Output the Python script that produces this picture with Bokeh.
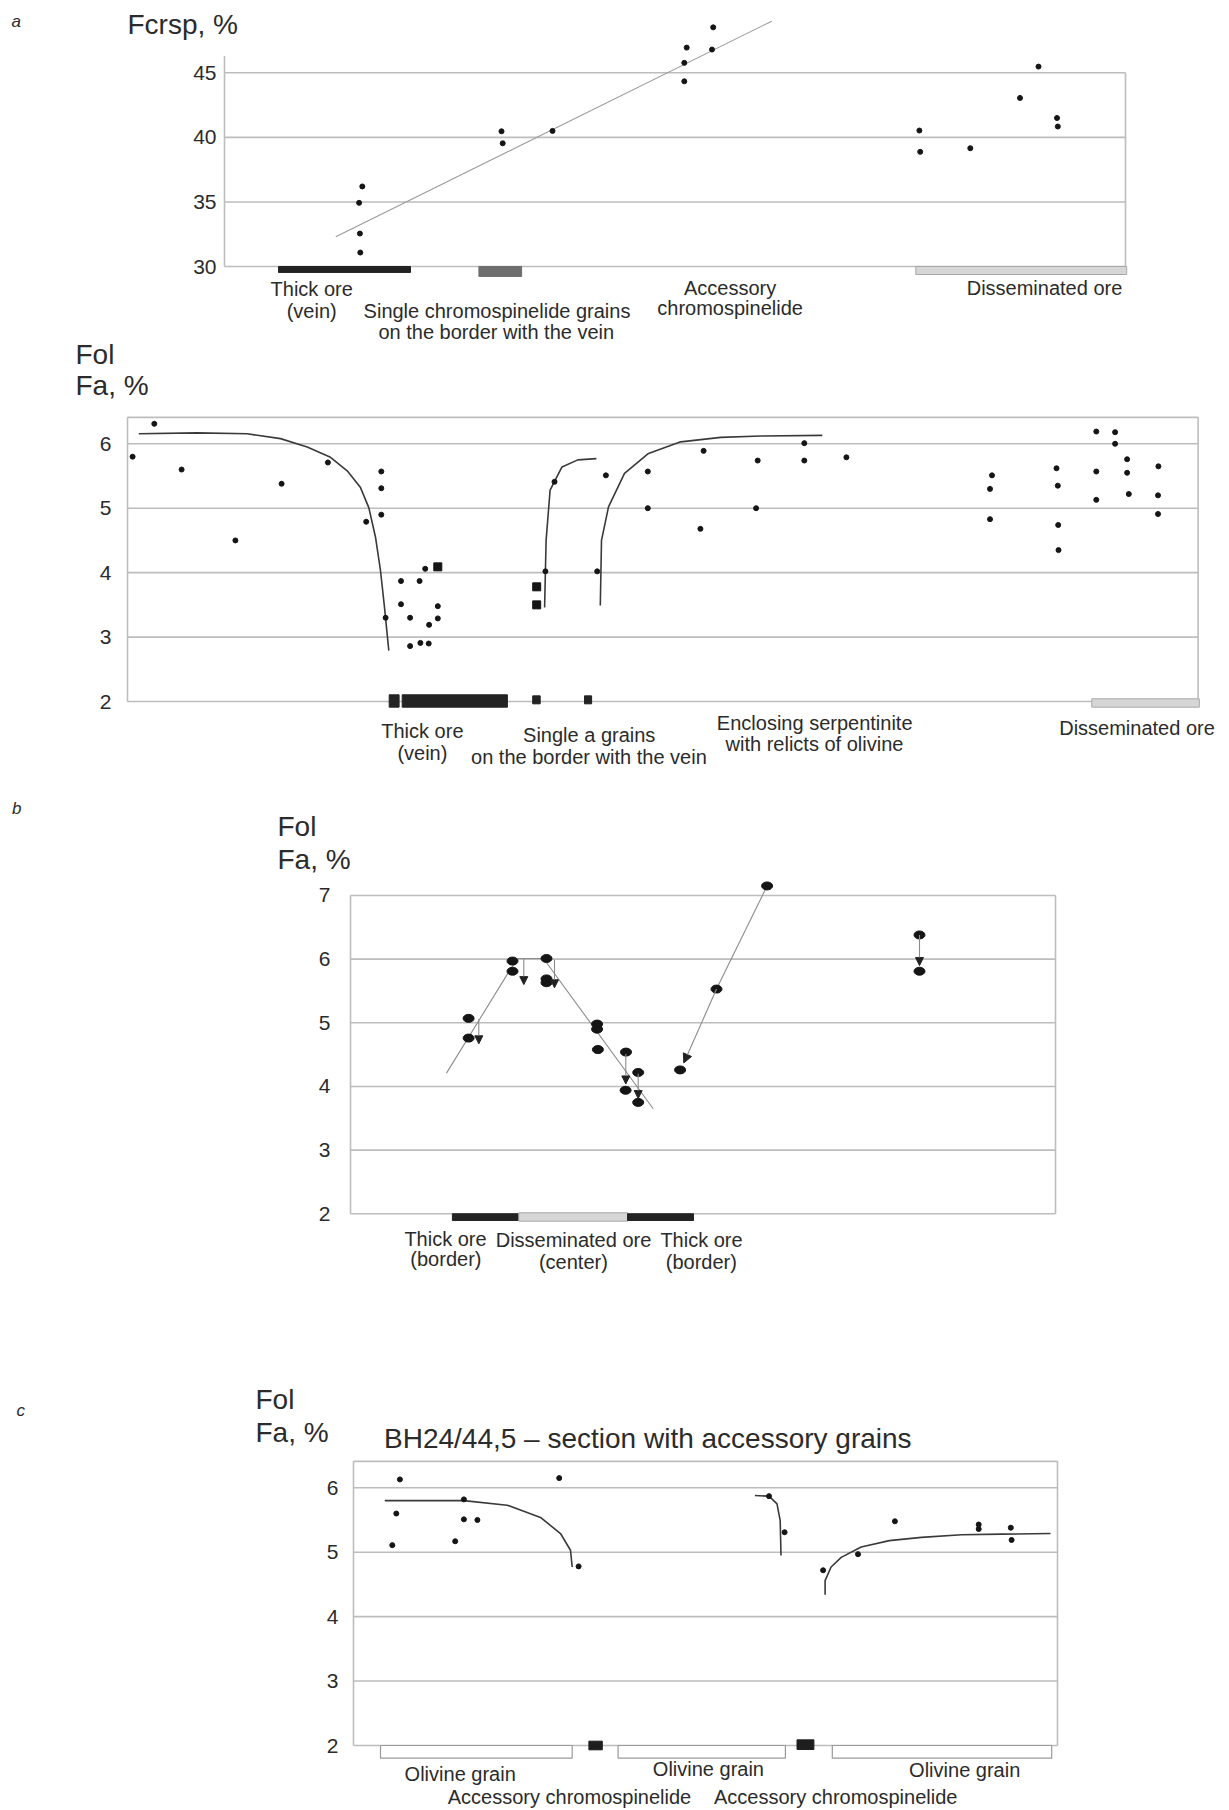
from bokeh.plotting import figure
from bokeh.models import (ColumnDataSource, Label, LinearAxis, FixedTicker, Arrow,
                          NormalHead, Range1d)
from bokeh.embed import file_html
from bokeh.resources import INLINE
from bokeh.core.properties import value

FONT = "Liberation Sans"
GRID = "#bdbdbd"
TXT = "#2b2b2b"
DOT = "#151515"
W, H = 1229, 1808

# ======================= DATA =======================
# ---- panel a (upper): Fcrsp, % vs. position along profile ----
a1_ticks = [30, 35, 40, 45]
a1_box = [0, 901, 46.3]                  # profile start, profile end, axis top
a1_x = [137.8, 134.6, 135.4, 135.8, 277.0, 278.2, 328.0, 462.2, 459.8, 459.8,
        488.7, 487.5, 694.9, 695.7, 745.8, 795.5, 814.0, 832.5, 833.3]
a1_y = [36.2, 34.93, 32.55, 31.08, 40.47, 39.54, 40.5, 46.95, 45.77, 44.34,
        48.52, 46.8, 40.53, 38.88, 39.16, 43.05, 45.48, 41.5, 40.84]
a1_trend_x = [111.3, 547.3]
a1_trend_y = [32.3, 49.0]
a1_zone_left = [54.0, 254.4, 691.3]
a1_zone_right = [186.0, 297.1, 902.2]
a1_zone_bottom = [29.54, 29.23, 29.38]
a1_labels = ["Thick ore", "(vein)", "Single chromospinelide grains",
             "on the border with the vein", "Accessory", "chromospinelide",
             "Disseminated ore"]
a1_label_x = [87.2, 87.2, 272.5, 271.8, 505.6, 505.6, 820.0]
a1_label_y = [28.22, 26.52, 26.59, 24.91, 28.37, 26.75, 28.37]

# ---- panel a (lower): Fa in olivine ----
a2_ticks = [2, 3, 4, 5, 6]
a2_box = [0, 1070.6, 6.41]
a2_x = [5.1, 26.8, 54.1, 107.9, 154.1, 200.4, 238.7, 253.8, 253.8, 253.8,
        258.1, 273.5, 273.5, 282.6, 282.6, 292.1, 292.9, 297.7, 301.2, 301.6,
        310.3, 310.3, 417.9, 427.0, 469.7, 478.4, 520.3, 520.3, 576.1, 572.9,
        630.2, 628.6, 676.8, 676.8, 718.9,
        864.5, 862.5, 862.5, 929.0, 930.3, 930.7, 931.0, 968.8, 968.8, 968.8,
        987.6, 987.6, 999.6, 999.6, 1001.3, 1030.9, 1030.5, 1030.5]
a2_y = [5.80, 6.31, 5.60, 4.50, 5.38, 5.71, 4.79, 5.57, 5.31, 4.90,
        3.30, 3.87, 3.51, 3.30, 2.86, 3.87, 2.91, 4.06, 2.90, 3.19,
        3.48, 3.29, 4.02, 5.41, 4.02, 5.51, 5.57, 5.00, 5.89, 4.68,
        5.74, 5.00, 6.01, 5.74, 5.79,
        5.51, 5.30, 4.83, 5.62, 5.35, 4.74, 4.35, 6.19, 5.57, 5.13,
        6.18, 6.00, 5.76, 5.55, 5.22, 5.65, 5.20, 4.91]
a2_sq_x = [310.3, 409.2, 409.2]
a2_sq_y = [4.09, 3.78, 3.50]
a2_curve1_x = [11.3, 69.7, 119.7, 153.0, 179.7, 203.0, 219.7, 233.0, 241.3, 248.0, 253.0, 257.0, 261.3]
a2_curve1_y = [6.155, 6.17, 6.155, 6.08, 5.95, 5.79, 5.58, 5.32, 5.01, 4.55, 4.03, 3.46, 2.79]
a2_curve2_x = [417.1, 418.6, 422.6, 434.5, 450.3, 468.9]
a2_curve2_y = [3.46, 4.50, 5.28, 5.64, 5.75, 5.77]
a2_curve3_x = [472.8, 474.0, 481.0, 497.0, 521.0, 553.2, 593.3, 633.4, 694.8]
a2_curve3_y = [3.49, 4.50, 5.02, 5.54, 5.85, 6.03, 6.10, 6.12, 6.13]
a2_zone_left = [261.7, 274.7, 405.2, 457.0]
a2_zone_right = [271.6, 379.9, 412.7, 464.1]
a2_zone_top = [2.104, 2.104, 2.088, 2.088]
a2_zone_bottom = [1.912, 1.912, 1.964, 1.964]
a2_dissem = [964.3, 1071.8, 2.042, 1.912]
a2_labels = ["Thick ore", "(vein)", "Single a grains", "on the border with the vein",
             "Enclosing serpentinite", "with relicts of olivine", "Disseminated ore"]
a2_label_x = [294.9, 294.9, 461.7, 461.4, 687.2, 687.0, 1009.5]
a2_label_y = [1.55, 1.204, 1.483, 1.146, 1.669, 1.343, 1.586]

# ---- panel b ----
b_ticks = [2, 3, 4, 5, 6, 7]
b_box = [0, 705, 7]
b_x = [118.1, 118.1, 162.0, 162.0, 196.0, 196.0, 196.0, 246.6, 246.6, 247.4,
       275.5, 275.1, 287.7, 287.7, 329.6, 366.0, 416.6, 569.0, 569.0]
b_y = [5.07, 4.76, 5.97, 5.81, 6.01, 5.69, 5.63, 4.98, 4.90, 4.58,
       4.54, 3.94, 4.22, 3.75, 4.26, 5.53, 7.15, 6.38, 5.81]
b_trend1_x = [96.0, 158.3, 167.3, 193.0, 302.7]
b_trend1_y = [4.21, 5.80, 6.01, 6.01, 3.65]
b_trend2_x = [416.6, 366.0, 333.3]
b_trend2_y = [7.15, 5.53, 4.37]
b_arrow_x = [128.3, 173.3, 204.0, 275.3, 287.7, 569.0]
b_arrow_y0 = [5.06, 6.02, 5.99, 4.51, 4.20, 6.38]
b_arrow_y1 = [4.67, 5.60, 5.55, 4.04, 3.81, 5.90]
b_zone_left = [101.9, 168.3, 277.0]
b_zone_right = [168.3, 277.0, 343.0]
b_labels = ["Thick ore", "(border)", "Disseminated ore", "(center)", "Thick ore", "(border)"]
b_label_x = [95.0, 95.4, 223.0, 222.9, 351.0, 350.8]
b_label_y = [1.607, 1.282, 1.596, 1.240, 1.581, 1.235]

# ---- panel c ----
c_ticks = [2, 3, 4, 5, 6]
c_box = [0, 704, 6.41]
c_x = [46.4, 42.8, 38.8, 110.4, 110.4, 123.9, 101.7, 205.7, 225.1,
       415.5, 431.1, 469.6, 504.5, 541.4, 625.2, 625.2, 657.3, 658.1]
c_y = [6.13, 5.60, 5.11, 5.82, 5.51, 5.50, 5.17, 6.15, 4.78,
       5.87, 5.31, 4.72, 4.97, 5.48, 5.43, 5.36, 5.38, 5.19]
c_curve1_x = [31.3, 110.3, 153.7, 187.0, 207.0, 217.0, 218.7]
c_curve1_y = [5.80, 5.80, 5.73, 5.54, 5.29, 5.03, 4.77]
c_curve2_x = [401.4, 415.5, 423.5, 426.7, 427.5]
c_curve2_y = [5.88, 5.87, 5.75, 5.49, 4.95]
c_curve3_x = [471.6, 471.6, 477.6, 487.7, 507.7, 535.8, 567.9, 608.0, 648.1, 697.0]
c_curve3_y = [4.34, 4.56, 4.77, 4.92, 5.08, 5.18, 5.23, 5.27, 5.28, 5.29]
c_grain_left = [27.0, 264.6, 478.8]
c_grain_right = [218.7, 431.9, 698.2]
c_chrom_left = [235.4, 443.5]
c_chrom_right = [248.8, 460.4]
c_labels = ["Olivine grain", "Olivine grain", "Olivine grain",
            "Accessory chromospinelide", "Accessory chromospinelide"]
c_label_x = [106.7, 354.9, 611.2, 216.0, 482.2]
c_label_y = [1.561, 1.638, 1.623, 1.205, 1.195]
c_title = "BH24/44,5 \u2013 section with accessory grains"

# ======================= FIGURE (one canvas, one scale pair per panel) =======================
p = figure(width=W, height=H,
           x_range=Range1d(-224, W - 224), y_range=Range1d(-89.41, 50.599),
           x_axis_type=None, y_axis_type=None, toolbar_location=None,
           output_backend="svg", title=None,
           min_border_left=0, min_border_right=0, min_border_top=0, min_border_bottom=0,
           outline_line_color=None, background_fill_color="white",
           border_fill_color="white")
p.extra_x_ranges = {"xa2": Range1d(-127, W - 127), "xb": Range1d(-350, W - 350),
                    "xc": Range1d(-353, W - 353)}
p.extra_y_ranges = {"ya2": Range1d(-15.181, 12.880), "yb": Range1d(-7.342, 21.059),
                    "yc": Range1d(1.0222, 29.084)}

RN = {
    "a1": dict(),
    "a2": dict(x_range_name="xa2", y_range_name="ya2"),
    "b": dict(x_range_name="xb", y_range_name="yb"),
    "c": dict(x_range_name="xc", y_range_name="yc"),
}


def yaxis(key, ticks, standoff):
    ax = LinearAxis(ticker=FixedTicker(ticks=ticks), fixed_location=0,
                    axis_line_color=None,
                    major_tick_line_color=None, minor_tick_line_color=None,
                    major_tick_in=0, major_tick_out=0,
                    major_label_standoff=standoff,
                    major_label_text_font=FONT, major_label_text_font_size="21px",
                    major_label_text_color=TXT, **RN[key])
    p.add_layout(ax, "left")


def frame(key, box, bottom, ticks, top_line=True, right_top=None):
    kw = RN[key]
    x0, x1, top = box
    p.segment(x0=x0, x1=x1, y0=ticks, y1=ticks, line_color=GRID, line_width=1.6, **kw)
    if top_line:
        p.segment(x0=[x0], x1=[x1], y0=[top], y1=[top], line_color=GRID, line_width=1.6, **kw)
    rt = top if right_top is None else right_top
    p.segment(x0=[x0, x1], x1=[x0, x1], y0=[bottom, bottom], y1=[top, rt],
              line_color=GRID, line_width=1.6, **kw)


def texts(key, xs, ys, labels, size="20px"):
    src = ColumnDataSource(dict(x=xs, y=ys, t=labels))
    p.text(x="x", y="y", text="t", source=src, text_font=value(FONT),
           text_font_size=size, text_align="center", text_baseline="middle",
           text_color=TXT, **RN[key])


def side_label(key, x, y, text, size="28px", style="normal"):
    p.add_layout(Label(x=x, y=y, text=text, text_font=FONT, text_font_size=size,
                       text_font_style=style, text_color=TXT,
                       text_align="left", text_baseline="middle", **RN[key]))


# ======================= PANEL a (upper) =======================
k = "a1"
yaxis(k, a1_ticks, 8)
frame(k, a1_box, 30, a1_ticks, top_line=False, right_top=45)
p.quad(left=a1_zone_left, right=a1_zone_right, top=30, bottom=a1_zone_bottom,
       fill_color=["#232323", "#6e6e6e", "#d6d6d6"],
       line_color=["#232323", "#6e6e6e", "#a8a8a8"], line_width=1, **RN[k])
p.line(a1_trend_x, a1_trend_y, line_color="#9a9a9a", line_width=1.1, **RN[k])
p.scatter(a1_x, a1_y, size=5, color=DOT, **RN[k])
texts(k, a1_label_x, a1_label_y, a1_labels)
side_label(k, -213, 48.97, "a", size="17px", style="italic")
side_label(k, -97, 48.74, "Fcrsp, %")

# ======================= PANEL a (lower) =======================
k = "a2"
yaxis(k, a2_ticks, 16)
frame(k, a2_box, 2, a2_ticks)
p.quad(left=a2_zone_left, right=a2_zone_right, top=a2_zone_top, bottom=a2_zone_bottom,
       fill_color="#232323", line_color="#232323", **RN[k])
p.quad(left=[a2_dissem[0]], right=[a2_dissem[1]], top=[a2_dissem[2]], bottom=[a2_dissem[3]],
       fill_color="#d6d6d6", line_color="#a8a8a8", line_width=1, **RN[k])
for cx, cy in [(a2_curve1_x, a2_curve1_y), (a2_curve2_x, a2_curve2_y), (a2_curve3_x, a2_curve3_y)]:
    p.line(cx, cy, line_color="#3a3a3a", line_width=1.6, **RN[k])
p.scatter(a2_x, a2_y, size=5, color=DOT, **RN[k])
p.scatter(a2_sq_x, a2_sq_y, marker="square", size=8, color=DOT, **RN[k])
texts(k, a2_label_x, a2_label_y, a2_labels)
side_label(k, -52, 7.386, "Fol")
side_label(k, -52, 6.897, "Fa, %")

# ======================= PANEL b =======================
k = "b"
yaxis(k, b_ticks, 20)
frame(k, b_box, 2, b_ticks, top_line=False)
p.quad(left=b_zone_left, right=b_zone_right, top=[2.0, 2.016, 2.0], bottom=[1.895, 1.884, 1.895],
       fill_color=["#232323", "#d6d6d6", "#232323"],
       line_color=["#232323", "#a8a8a8", "#232323"], line_width=1, **RN[k])
p.line(b_trend1_x, b_trend1_y, line_color="#8c8c8c", line_width=1.1, **RN[k])
p.line(b_trend2_x[:2], b_trend2_y[:2], line_color="#8c8c8c", line_width=1.1, **RN[k])
p.add_layout(Arrow(end=NormalHead(size=9, fill_color="#222222", line_color="#222222"),
                   x_start=b_trend2_x[1], y_start=b_trend2_y[1],
                   x_end=b_trend2_x[2], y_end=b_trend2_y[2],
                   line_color="#8c8c8c", line_width=1.1, **RN[k]))
asrc = ColumnDataSource(dict(x=b_arrow_x, y0=b_arrow_y0, y1=b_arrow_y1))
p.add_layout(Arrow(end=NormalHead(size=8, fill_color="#222222", line_color="#222222"),
                   x_start="x", y_start="y0", x_end="x", y_end="y1", source=asrc,
                   line_color="#8c8c8c", line_width=1.1, **RN[k]))
p.ellipse(b_x, b_y, width=11, height=8, width_units="screen", height_units="screen",
          fill_color=DOT, line_color=DOT, **RN[k])
texts(k, b_label_x, b_label_y, b_labels)
side_label(k, -338.5, 8.367, "b", size="17px", style="italic")
side_label(k, -73, 8.084, "Fol")
side_label(k, -73, 7.566, "Fa, %")

# ======================= PANEL c =======================
k = "c"
yaxis(k, c_ticks, 15)
frame(k, c_box, 2, c_ticks)
p.quad(left=c_grain_left, right=c_grain_right, top=2.0, bottom=1.803,
       fill_color="white", line_color="#9a9a9a", line_width=1.2, **RN[k])
p.quad(left=c_chrom_left, right=c_chrom_right, top=[2.067, 2.088], bottom=[1.933, 1.938],
       fill_color="#1e1e1e", line_color="#1e1e1e", **RN[k])
for cx, cy in [(c_curve1_x, c_curve1_y), (c_curve2_x, c_curve2_y), (c_curve3_x, c_curve3_y)]:
    p.line(cx, cy, line_color="#3a3a3a", line_width=1.6, **RN[k])
p.scatter(c_x, c_y, size=5, color=DOT, **RN[k])
texts(k, c_label_x, c_label_y, c_labels)
side_label(k, 30.5, 6.760, c_title, size="28px")
side_label(k, -337, 7.199, "c", size="17px", style="italic")
side_label(k, -98, 7.370, "Fol")
side_label(k, -98, 6.858, "Fa, %")

open("out.html", "w").write(file_html(p, INLINE))
